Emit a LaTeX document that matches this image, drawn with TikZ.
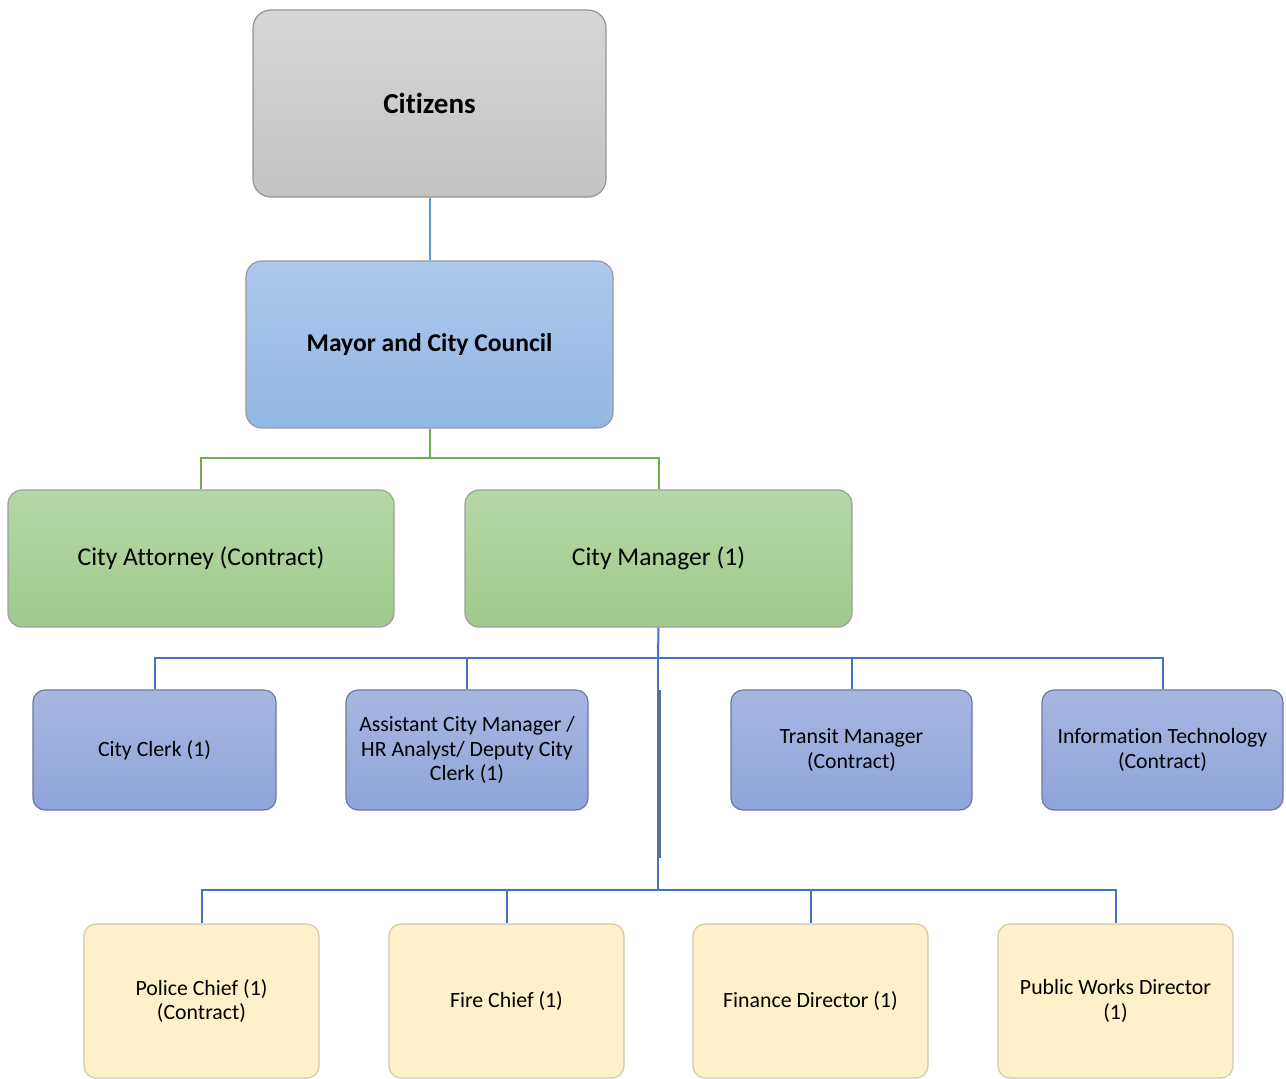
\documentclass[tikz,border=0pt]{standalone}
\usepackage{fontspec}
\setmainfont{Carlito}[Ligatures=NoCommon]
\begin{document}
\begin{tikzpicture}[x=0.5pt,y=-0.5pt,
  box/.style={rounded corners=#1, draw, line width=0.6pt, inner sep=2pt, align=center, text=black},
  box/.default=6pt,
  greybox/.style={box=9pt, draw=gray!85, top color={rgb,255:red,214;green,214;blue,214}, bottom color={rgb,255:red,195;green,195;blue,195}, font=\fontsize{14.5}{17}\selectfont\bfseries},
  mayorbox/.style={box=8pt, draw=gray!80, top color={rgb,255:red,172;green,200;blue,236}, bottom color={rgb,255:red,146;green,184;blue,228}, font=\fontsize{12.8}{15}\selectfont\bfseries},
  greenbox/.style={box=7pt, draw=gray!75, top color={rgb,255:red,181;green,215;blue,165}, bottom color={rgb,255:red,160;green,203;blue,139}, font=\fontsize{12.8}{15}\selectfont},
  staffbox/.style={box=6pt, draw={rgb,255:red,110;green,120;blue,150}, top color={rgb,255:red,168;green,182;blue,225}, bottom color={rgb,255:red,143;green,164;blue,217}, font=\fontsize{10.9}{12.3}\selectfont},
  deptbox/.style={box=6pt, draw={rgb,255:red,210;green,200;blue,170}, fill={rgb,255:red,254;green,240;blue,200}, font=\fontsize{10.9}{12.3}\selectfont},
  bluelink/.style={draw={rgb,255:red,68;green,114;blue,196}, line width=1pt},
  lightlink/.style={draw={rgb,255:red,91;green,155;blue,213}, line width=1pt},
  greenlink/.style={draw={rgb,255:red,112;green,173;blue,71}, line width=1pt}]

\useasboundingbox (0,0) rectangle (1286,1078);
\clip (0,0) rectangle (1286,1078);

% top levels
\node[greybox, minimum width=176.5pt, minimum height=93.5pt] (citizens) at (429.5,103.5) {Citizens};
\node[mayorbox, minimum width=183.5pt, minimum height=83.5pt] (mayor) at (429.5,344.5) {Mayor and City Council};

% appointed by council
\node[greenbox, minimum width=193pt, minimum height=68.5pt] (attorney) at (201,558.5) {City Attorney (Contract)};
\node[greenbox, minimum width=193.5pt, minimum height=68.5pt] (manager) at (658.5,558.5) {City Manager (1)};

% staff row
\node[staffbox, minimum width=121.5pt, minimum height=60pt] (clerk) at (154.5,750) {City Clerk (1)};
\node[staffbox, minimum width=121pt, minimum height=60pt] (assistant) at (467,750) {Assistant City Manager /\\HR Analyst/ Deputy City\\Clerk (1)};
\node[staffbox, minimum width=120.5pt, minimum height=60pt] (transit) at (851.5,750) {Transit Manager\\(Contract)};
\node[staffbox, minimum width=120.5pt, minimum height=60pt] (it) at (1162.5,750) {Information Technology\\(Contract)};

% department heads
\node[deptbox, minimum width=117.5pt, minimum height=77pt] (police) at (201.5,1001) {Police Chief (1)\\(Contract)};
\node[deptbox, minimum width=117.5pt, minimum height=77pt] (fire) at (506.5,1001) {Fire Chief (1)};
\node[deptbox, minimum width=117.5pt, minimum height=77pt] (finance) at (810.5,1001) {Finance Director (1)};
\node[deptbox, minimum width=117.5pt, minimum height=77pt] (publicworks) at (1115.5,1001) {Public Works Director\\(1)};

% junction points of the connectors
\coordinate (gj) at (429.5,458);
\coordinate (bj) at (658,658);
\coordinate (yj) at (658,890);
\coordinate (barTop) at (659.5,690);
\coordinate (barBot) at (659.5,858);

% connectors
\draw[lightlink] (citizens.south) -- (mayor.north);
\draw[greenlink] (mayor.south) -- (gj) -| (attorney.north);
\draw[greenlink] (gj) -| (manager.north);

\draw[bluelink] (manager.south) -- (bj);
\draw[bluelink] (bj) -| (clerk.north);
\draw[bluelink] (bj) -| (assistant.north);
\draw[bluelink] (bj) -| (transit.north);
\draw[bluelink] (bj) -| (it.north);
\draw[bluelink] (bj) -- (yj);
\draw[bluelink] (yj) -| (police.north);
\draw[bluelink] (yj) -| (fire.north);
\draw[bluelink] (yj) -| (finance.north);
\draw[bluelink] (yj) -| (publicworks.north);

\draw[draw={rgb,255:red,80;green,115;blue,150}, line width=1.5pt] (barTop) -- (barBot);
\end{tikzpicture}
\end{document}
